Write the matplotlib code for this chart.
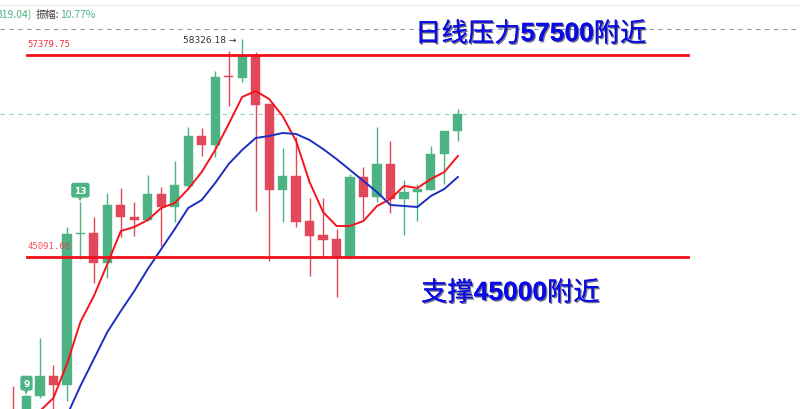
import matplotlib
matplotlib.use('Agg')
import matplotlib.pyplot as plt
import matplotlib.patheffects as pe
import numpy as np

# Daily candles (price)
opens = [35724, 35237, 36640, 37853, 37306, 46520, 46552, 44727, 48255, 47525,
         47343, 48924, 48133, 49411, 52452, 51905, 56041, 55980, 57380, 54399,
         49167, 50019, 47282, 46430, 46187, 45092, 49958, 48742, 50749, 48620,
         49046, 49167, 51357, 52756]
closes = [34933, 36640, 37853, 37306, 46491, 46552, 44727, 48255, 47525, 47343,
          48924, 48133, 49472, 52452, 51905, 56041, 56010, 57319, 54338, 49167,
          50019, 47221, 46369, 46126, 45092, 49958, 48742, 50749, 48620, 49046,
          49228, 51357, 52756, 53791]
highs = [37245, 36700, 40165, 38522, 46917, 48437, 47525, 48985, 49289, 48437,
         50080, 49350, 50932, 53000, 52939, 56406, 57623, 58326.18, 57562, 54399,
         51722, 52391, 48681, 48681, 46795, 50141, 50567, 53000, 52148, 49776,
         49532, 51844, 52756, 54095]
lows = [34021, 34750, 36515, 35542, 36332, 44970, 43510, 43814, 46308, 46369,
        47282, 45761, 47221, 49289, 51236, 51175, 54277, 55737, 47890, 44849,
        47221, 46917, 43936, 45092, 42659, 44970, 47403, 48437, 47768, 46430,
        47282, 49167, 49532, 52148]

# moving averages as drawn
ma_fast = [34021, 34933, 35724, 36515, 38583, 41138, 42719, 44666, 46673, 46917,
           47343, 48073, 48377, 49228, 50262, 51601, 53182, 54825, 55190, 54703,
           53669, 52148, 49654, 47829, 46978, 46978, 47282, 48194, 48620, 49411,
           49289, 49837, 50262, 51236]
ma_slow = [np.nan, np.nan, 32200, 34000, 35450, 37245, 38887, 40530, 41807, 43024,
           44362, 45578, 46795, 48073, 48559, 49593, 50749, 51601, 52331, 52452,
           52635, 52574, 52209, 51661, 51053, 50384, 49715, 49046, 48255, 48194,
           48133, 48802, 49228, 49958]

resistance = 57379.75
support = 45091.66
top_price = 58326.18
amp_line = 58960  # grey dashed line near top

GREEN = '#4db385'
RED = '#e2475a'

fig = plt.figure(figsize=(8, 4.1), dpi=100)
ax = fig.add_axes([0, 0, 1, 1])
ax.set_axis_off()

n = len(opens)
idx = np.arange(n)
o = np.array(opens, float)
c = np.array(closes, float)
colors = [GREEN if cc >= oo else RED for oo, cc in zip(o, c)]

# reference lines
ax.axhline(amp_line, color='#8b9bb3', lw=0.8, ls=(0, (4, 4)), zorder=1)
ax.axhline(closes[-1], color='#8fd3b0', lw=0.8, ls=(0, (4, 4)), zorder=1)

# wicks and bodies
ax.vlines(idx, lows, highs, colors=colors, lw=1.0, zorder=2)
body_h = np.where(np.abs(c - o) < 40, 40, c - o)
ax.bar(idx, body_h, bottom=o, width=0.68, color=colors, edgecolor=colors, lw=0.3, zorder=3)

# MAs
ax.plot(idx, ma_fast, color='#f5141e', lw=1.4, zorder=4)
ax.plot(idx, ma_slow, color='#1c2fc0', lw=1.4, zorder=4)

# support / resistance
ax.axhline(resistance, xmin=0.034, xmax=0.86, color='#f0101a', lw=2.0, zorder=5)
ax.axhline(support, xmin=0.034, xmax=0.86, color='#f0101a', lw=2.0, zorder=5)

ax.text(1.1, resistance + 450, f'{resistance:.2f}', color='#f03040', fontsize=6.5,
        family='DejaVu Sans Mono', va='bottom', zorder=6)
ax.text(1.1, support + 450, f'{support:.2f}', color='#f03040', fontsize=6.5,
        family='DejaVu Sans Mono', va='bottom', alpha=0.85, zorder=6)
ax.text(16.6, top_price, f'{top_price:.2f} →', color='#333333', fontsize=6.5,
        ha='right', va='center', zorder=6)

# count badges
for i, lab in [(1, '9'), (5, '13')]:
    ax.annotate(lab, (i, highs[i]), xytext=(0, 8.5), textcoords='offset points',
                ha='center', va='center', color='white', fontsize=6.5, weight='bold',
                bbox=dict(boxstyle='round,pad=0.25,rounding_size=0.2', fc=GREEN, ec=GREEN),
                zorder=7)
    ax.annotate('▼', (i, highs[i]), xytext=(0, 2.5), textcoords='offset points',
                ha='center', va='center', color=GREEN, fontsize=4, zorder=7)

ax.set_xlim(-13 / 13.48, 787 / 13.48)
ax.set_ylim(35845, 60786)

# annotation texts: CJK in regular weight, digits bold
renderer = fig.canvas.get_renderer()
shadow = [pe.withSimplePatchShadow(offset=(1, -1), shadow_rgbFace='#000022', alpha=0.55), pe.Normal()]


def segmented(x_px, y_px, parts):
    x = x_px
    for s, bold in parts:
        if bold:
            kw = dict(family='Liberation Sans', weight='bold')
        else:
            kw = dict(family='Noto Sans CJK SC', weight='medium')
        t = fig.text(x / 800, 1 - y_px / 410, s, color='#0a0ae6', fontsize=19,
                     va='center', path_effects=shadow, **kw)
        x += t.get_window_extent(renderer).width


segmented(415, 35, [('日线压力', False), ('57500', True), ('附近', False)])
segmented(421, 294, [('支撑', False), ('45000', True), ('附近', False)])

# header strip
hdr = ['Noto Sans CJK SC', 'DejaVu Sans']
fig.text(-3 / 800, 1 - 15 / 410, '319.04)', color=GREEN, fontsize=7.5, family=hdr, va='center')
fig.text(36 / 800, 1 - 15 / 410, '振幅:', color='#444444', fontsize=7.5, family=hdr, va='center')
fig.text(60 / 800, 1 - 15 / 410, '10.77%', color=GREEN, fontsize=7.5, family=hdr, va='center')
fig.add_artist(plt.Line2D([0, 1], [1 - 5.5 / 410, 1 - 5.5 / 410], color='#ececec', lw=0.8))

fig.savefig('out.png', dpi=100, facecolor='white')
